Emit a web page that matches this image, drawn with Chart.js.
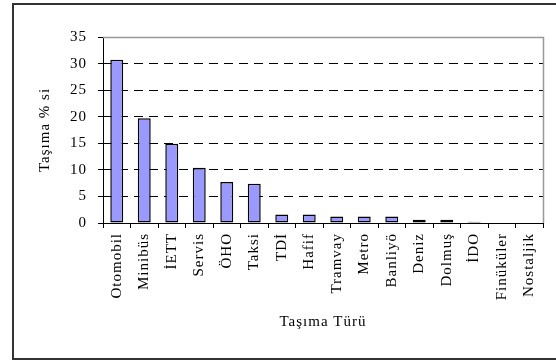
<!DOCTYPE html>
<html>
<head>
<meta charset="utf-8">
<script src="https://cdn.jsdelivr.net/npm/chart.js@4/dist/chart.umd.min.js"></script>
<style>
  html, body { margin: 0; padding: 0; background: #fff; }
  canvas { display: block; }
</style>
</head>
<body>
<canvas id="graphBox" width="556" height="361"></canvas>
<script>
// Transport share by type (%)
const categories = ["Otomobil", "Minibüs", "İETT", "Servis", "ÖHO", "Taksi", "TDİ", "Hafif",
  "Tramvay", "Metro", "Banliyö", "Deniz", "Dolmuş", "İDO", "Finüküler", "Nostaljik"];
const shares = [30.7, 19.7, 14.9, 10.4, 7.7, 7.4, 1.6, 1.6, 1.2, 1.2, 1.2, 0.6, 0.6, 0.25, 0, 0];
const yTicks = [0, 5, 10, 15, 20, 25, 30, 35];

const serif = "'Liberation Serif', 'Times New Roman', serif";

// Outer box plus the grey frame on top and right of the plot
const framePlugin = {
  id: 'frame',
  beforeLayout(chart) {
    // slightly spaced-out lettering
    chart.ctx.letterSpacing = '1px';
  },
  beforeDraw(chart) {
    const ctx = chart.ctx;
    ctx.letterSpacing = '1px';
    ctx.save();
    ctx.strokeStyle = '#333';
    ctx.lineWidth = 2;
    ctx.beginPath();
    ctx.moveTo(600, 4);
    ctx.lineTo(13, 4);
    ctx.lineTo(13, 359);
    ctx.lineTo(600, 359);
    ctx.stroke();
    ctx.restore();
  },
  afterDatasetsDraw(chart) {
    const { ctx, chartArea } = chart;
    const y = chart.scales.y;
    const top = Math.round(y.getPixelForValue(35)) + 0.5;
    const right = Math.round(chartArea.right) + 0.5;
    ctx.save();
    ctx.strokeStyle = '#999';
    ctx.lineWidth = 1.5;
    ctx.beginPath();
    ctx.moveTo(chartArea.left, top);
    ctx.lineTo(right, top);
    ctx.lineTo(right, Math.round(y.getPixelForValue(0)));
    ctx.stroke();
    ctx.restore();
  }
};

const ctx = document.getElementById('graphBox').getContext('2d');
new Chart(ctx, {
  type: 'bar',
  data: {
    labels: categories,
    datasets: [{
      data: shares,
      backgroundColor: '#9999ff',
      borderColor: '#000',
      borderWidth: 1.5,
      borderSkipped: false,
      barPercentage: 0.47,
      categoryPercentage: 1
    }]
  },
  plugins: [framePlugin],
  options: {
    responsive: false,
    animation: false,
    layout: { padding: { left: 0, top: 37, right: 13, bottom: 0 } },
    plugins: {
      legend: { display: false },
      tooltip: { enabled: false }
    },
    scales: {
      x: {
        offset: true,
        afterFit(scale) { scale.height = 138; },
        grid: {
          display: true,
          offset: true,
          drawOnChartArea: false,
          drawTicks: true,
          tickLength: 5,
          tickColor: '#000'
        },
        border: { display: true, color: '#000', width: 1 },
        ticks: {
          autoSkip: false,
          minRotation: 90,
          maxRotation: 90,
          padding: 5,
          color: '#000',
          font: { family: serif, size: 15 }
        },
        title: {
          display: true,
          text: 'Taşıma Türü',
          color: '#000',
          font: { family: serif, size: 15 },
          padding: { top: 0, bottom: 30 }
        }
      },
      y: {
        min: 0,
        max: 35,
        afterFit(scale) { scale.width = 103; },
        afterBuildTicks(scale) { scale.ticks = yTicks.map(v => ({ value: v })); },
        grid: {
          color: c => (c.tick && (c.tick.value === 0 || c.tick.value === 35)) ? 'rgba(0,0,0,0)' : '#000',
          lineWidth: 1,
          drawTicks: true,
          tickLength: 5,
          tickColor: '#000'
        },
        border: { display: true, color: '#000', width: 1, dash: [9, 6] },
        ticks: {
          padding: 11,
          color: '#000',
          font: { family: serif, size: 15 }
        },
        title: {
          display: true,
          text: 'Taşıma % si',
          color: '#000',
          font: { family: serif, size: 15 },
          padding: { top: 36, bottom: 0 }
        }
      }
    }
  }
});
</script>
</body>
</html>
